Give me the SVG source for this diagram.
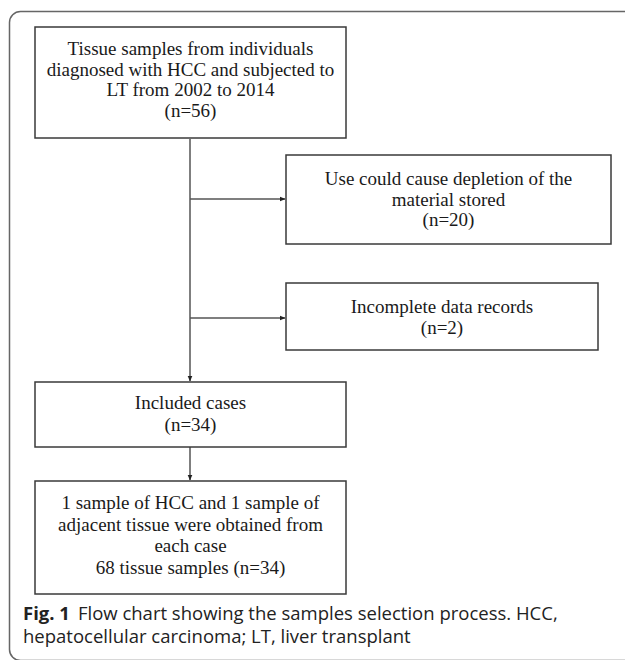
<svg xmlns="http://www.w3.org/2000/svg" width="625" height="660" viewBox="0 0 625 660">
<style>
.box{fill:#fff;stroke:#3a3a3a;stroke-width:1.5}
.t{font-family:"Liberation Serif","Times New Roman",serif;font-size:19px;fill:#1a1a1a;text-anchor:middle}
.ln{stroke:#555;stroke-width:1.5;fill:none}
.cap{font-family:"Open Sans","Noto Sans",sans-serif;font-size:18.5px;fill:#222}
</style>
<defs>
<marker id="ah" markerWidth="6" markerHeight="6" refX="5.5" refY="3" orient="auto" markerUnits="userSpaceOnUse">
<path d="M0,0.5 L6,3 L0,5.5 Z" fill="#222"/>
</marker>
</defs>
<rect x="0" y="0" width="625" height="660" fill="#fff"/>
<rect id="frame" x="9.5" y="11.5" width="700" height="649" rx="11" fill="none" stroke="#666" stroke-width="1.5"/>
<g id="connectors">
<line class="ln" x1="190" y1="139" x2="190" y2="381" marker-end="url(#ah)"/>
<line class="ln" x1="190" y1="199" x2="285" y2="199" marker-end="url(#ah)"/>
<line class="ln" x1="190" y1="318" x2="285" y2="318" marker-end="url(#ah)"/>
<line class="ln" x1="190" y1="447" x2="190" y2="480" marker-end="url(#ah)"/>
</g>
<g id="n1">
<rect class="box" x="35" y="27" width="311" height="111"/>
<text class="t" x="190.5" y="55">Tissue samples from individuals</text>
<text class="t" x="190.5" y="75.5">diagnosed with HCC and subjected to</text>
<text class="t" x="190.5" y="96">LT from 2002 to 2014</text>
<text class="t" x="190.5" y="116.5">(n=56)</text>
</g>
<g id="n2">
<rect class="box" x="286" y="155" width="325" height="89"/>
<text class="t" x="448.5" y="185">Use could cause depletion of the</text>
<text class="t" x="448.5" y="205.5">material stored</text>
<text class="t" x="448.5" y="226">(n=20)</text>
</g>
<g id="n3">
<rect class="box" x="286" y="283" width="312" height="67"/>
<text class="t" x="442" y="312.5">Incomplete data records</text>
<text class="t" x="442" y="333.5">(n=2)</text>
</g>
<g id="n4">
<rect class="box" x="35" y="382" width="311" height="65"/>
<text class="t" x="190.5" y="409">Included cases</text>
<text class="t" x="190.5" y="431">(n=34)</text>
</g>
<g id="n5">
<rect class="box" x="35" y="481" width="311" height="113"/>
<text class="t" x="190.5" y="509">1 sample of HCC and 1 sample of</text>
<text class="t" x="190.5" y="530.5">adjacent tissue were obtained from</text>
<text class="t" x="190.5" y="552">each case</text>
<text class="t" x="190.5" y="573.5">68 tissue samples (n=34)</text>
</g>
<g id="caption">
<text class="cap" x="23" y="620"><tspan font-weight="bold">Fig. 1</tspan><tspan dx="8">Flow chart showing the samples selection process. HCC,</tspan></text>
<text class="cap" x="23" y="643">hepatocellular carcinoma; LT, liver transplant</text>
</g>
</svg>
